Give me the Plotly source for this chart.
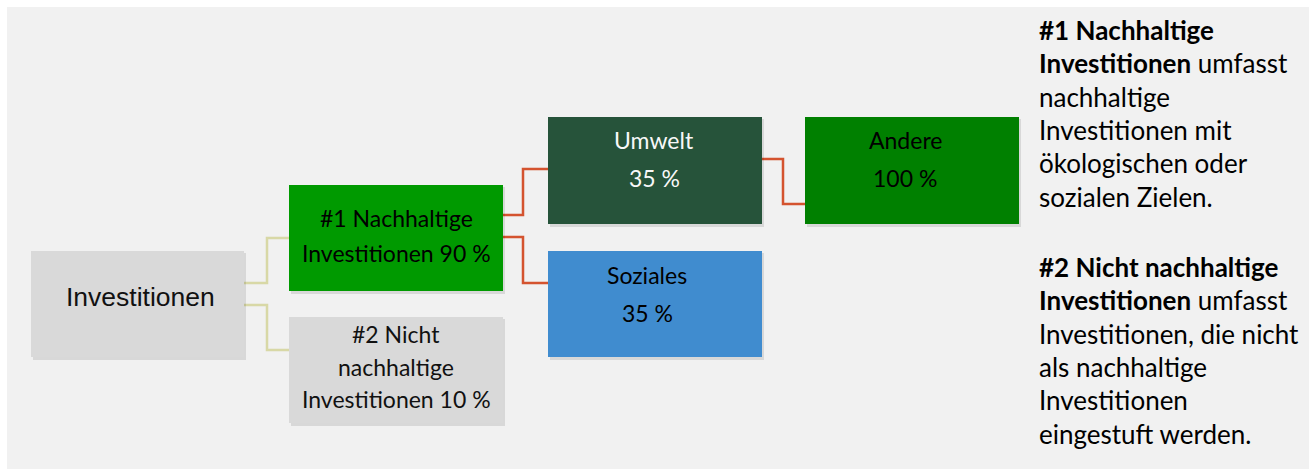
import plotly.graph_objects as go

# ---- content ----
box_names = ["inv", "n1", "n2", "umw", "soz", "and"]
box_lines = {
    "inv": ["Investitionen"],
    "n1": ["#1 Nachhaltige", "Investitionen 90 %"],
    "n2": ["#2 Nicht", "nachhaltige", "Investitionen 10 %"],
    "umw": ["Umwelt", "35 %"],
    "soz": ["Soziales", "35 %"],
    "and": ["Andere", "100 %"],
}
links = [("inv", "n1"), ("inv", "n2"), ("n1", "umw"), ("n1", "soz"), ("umw", "and")]
note1_lines = [
    "<b>#1 Nachhaltige</b>",
    "<b>Investitionen</b> umfasst",
    "nachhaltige",
    "Investitionen mit",
    "ökologischen oder",
    "sozialen Zielen.",
]
note2_lines = [
    "<b>#2 Nicht nachhaltige</b>",
    "<b>Investitionen</b> umfasst",
    "Investitionen, die nicht",
    "als nachhaltige",
    "Investitionen",
    "eingestuft werden.",
]

# ---- layout geometry (pixels) ----
geom = {  # x0, x1, y0, y1
    "inv": (31, 244, 251, 357),
    "n1": (289, 503, 185, 291),
    "n2": (289, 503, 317, 423),
    "umw": (548, 762, 117, 224),
    "soz": (548, 762, 251, 357),
    "and": (805, 1019, 117, 224),
}
fill = {
    "inv": "#d9d9d9", "n1": "#009a00", "n2": "#d9d9d9",
    "umw": "#26533a", "soz": "#408ccf", "and": "#008000",
}
txtcol = {"inv": "#111111", "n1": "#000000", "n2": "#111111",
          "umw": "#f8f8f8", "soz": "#000000", "and": "#000000"}
text_y = {
    "inv": [297],
    "n1": [218, 253],
    "n2": [334, 367, 399],
    "umw": [140, 178],
    "soz": [275, 313],
    "and": [140, 178],
}
text_x = {"inv": 140, "n1": 396, "n2": 396, "umw": 654, "soz": 647, "and": 905}
# connector: (start y, end y, elbow x, colour)
link_geom = {
    ("inv", "n1"): (283, 238, 267, "#d8d8a6"),
    ("inv", "n2"): (305, 350, 267, "#d8d8a6"),
    ("n1", "umw"): (215, 169, 523, "#d4532f"),
    ("n1", "soz"): (237, 283, 523, "#d4532f"),
    ("umw", "and"): (159, 204, 783, "#d4532f"),
}

fig = go.Figure()
shapes = []
# panel background
shapes.append(dict(type="rect", xref="x", yref="y", x0=7, x1=1309, y0=7, y1=469,
                   fillcolor="#f1f1f1", line=dict(width=0), layer="below"))

for a, b in links:
    ys, ye, ex, col = link_geom[(a, b)]
    xs = geom[a][1]
    xe = geom[b][0]
    fig.add_trace(go.Scatter(x=[xs, ex, ex, xe], y=[ys, ys, ye, ye], mode="lines",
                             line=dict(color=col, width=2.5), hoverinfo="skip",
                             showlegend=False))

for name in box_names:
    x0, x1, y0, y1 = geom[name]
    shapes.append(dict(type="rect", xref="x", yref="y", x0=x0 + 2, x1=x1 + 2, y0=y0 + 2, y1=y1 + 3,
                       fillcolor="rgba(0,0,0,0.10)", line=dict(width=0)))
    shapes.append(dict(type="rect", xref="x", yref="y", x0=x0, x1=x1, y0=y0, y1=y1,
                       fillcolor=fill[name], line=dict(width=0)))

annotations = []
for name in box_names:
    fam = "Liberation Sans" if name == "inv" else "Lato"
    size = 26.5 if name == "inv" else 23
    for line, y in zip(box_lines[name], text_y[name]):
        annotations.append(dict(x=text_x[name], y=y, xref="x", yref="y", text=line,
                                showarrow=False, xanchor="center", yanchor="middle",
                                font=dict(family=fam, size=size, color=txtcol[name])))

note_step = 33.3
for lines, y0 in ((note1_lines, 30), (note2_lines, 267)):
    for i, line in enumerate(lines):
        annotations.append(dict(x=1037, y=y0 + i * note_step, xref="x", yref="y", text=line,
                                showarrow=False, xanchor="left", yanchor="middle",
                                font=dict(family="Lato", size=26, color="#000000")))

fig.update_layout(
    width=1309, height=469,
    margin=dict(l=0, r=0, t=0, b=0),
    paper_bgcolor="#ffffff", plot_bgcolor="#ffffff",
    xaxis=dict(range=[0, 1309], visible=False, fixedrange=True),
    yaxis=dict(range=[469, 0], visible=False, fixedrange=True),
    shapes=shapes, annotations=annotations,
)
fig.write_html("out.html", config={"displayModeBar": False},
               post_script="document.body.style.margin='0px';document.body.style.overflow='hidden';")
